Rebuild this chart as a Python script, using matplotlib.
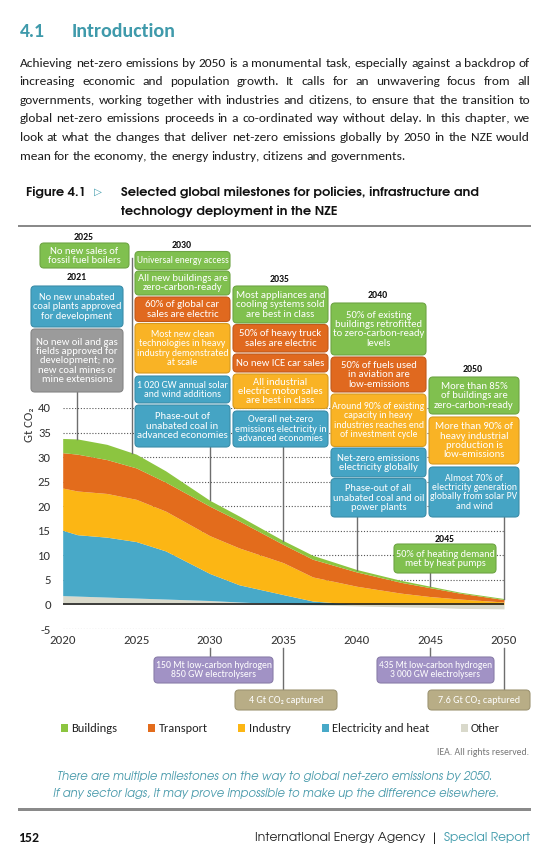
import numpy as np
import matplotlib
matplotlib.use("Agg")
import matplotlib.pyplot as plt
from matplotlib.patches import FancyBboxPatch, Rectangle
from matplotlib import font_manager as fm
import matplotlib.colors as mcolors

# ---------------- data (Gt CO2) ----------------
years = [2020, 2021, 2023, 2025, 2027, 2030, 2032, 2035, 2037, 2040, 2043, 2045, 2047, 2050]
other = [1.8, 1.7, 1.5, 1.3, 1.1, 0.8, 0.5, 0.1, -0.1, -0.3, -0.5, -0.6, -0.8, -0.9]
electricity = [13.3, 12.5, 12.2, 11.5, 9.8, 5.5, 3.5, 1.9, 0.7, 0.0, 0.0, 0.0, 0.0, 0.0]
industry = [8.6, 8.9, 8.9, 8.6, 8.1, 7.7, 7.5, 6.5, 4.9, 3.7, 2.3, 1.6, 1.1, 0.5]
transport = [7.2, 7.5, 6.9, 6.4, 5.9, 6.0, 5.5, 3.7, 3.6, 2.9, 2.2, 1.8, 1.2, 0.5]
buildings = [2.9, 3.1, 3.1, 2.8, 2.3, 1.2, 1.0, 0.8, 0.8, 0.5, 0.4, 0.3, 0.2, 0.2]

sector_names = ["Buildings", "Transport", "Industry", "Electricity and heat", "Other"]
x_ticks = [2020, 2025, 2030, 2035, 2040, 2045, 2050]
y_ticks = [-5, 0, 5, 10, 15, 20, 25, 30, 35, 40]
y_label = "Gt CO\u2082"

heading_num = "4.1"
heading = "Introduction"
body_lines = [
    "Achieving net-zero emissions by 2050 is a monumental task, especially against a backdrop of",
    "increasing economic and population growth. It calls for an unwavering focus from all",
    "governments, working together with industries and citizens, to ensure that the transition to",
    "global net-zero emissions proceeds in a co-ordinated way without delay. In this chapter, we",
    "look at what the changes that deliver net-zero emissions globally by 2050 in the NZE would",
    "mean for the economy, the energy industry, citizens and governments.",
]
fig_label = "Figure 4.1"
fig_title = ["Selected global milestones for policies, infrastructure and",
             "technology deployment in the NZE"]
caption = ["There are multiple milestones on the way to global net-zero emissions by 2050.",
           "If any sector lags, it may prove impossible to make up the difference elsewhere."]
rights = "IEA. All rights reserved."
footer_page = "152"
footer_org = "International Energy Agency"
footer_rep = "Special Report"

# milestones: (year label, [(kind, text), ...])
ms_2021 = ("2021", [("ele", "No new unabated\ncoal plants approved\nfor development"),
                    ("gry", "No new oil and gas\nfields approved for\ndevelopment; no\nnew coal mines or\nmine extensions")])
ms_2025 = ("2025", [("bld", "No new sales of\nfossil fuel boilers")])
ms_2030 = ("2030", [("bld", "Universal energy access"),
                    ("bld", "All new buildings are\nzero-carbon-ready"),
                    ("trn", "60% of global car\nsales are electric"),
                    ("ind", "Most new clean\ntechnologies in heavy\nindustry demonstrated\nat scale"),
                    ("ele", "1 020 GW annual solar\nand wind additions"),
                    ("ele", "Phase-out of\nunabated coal in\nadvanced economies")])
ms_2035 = ("2035", [("bld", "Most appliances and\ncooling systems sold\nare best in class"),
                    ("trn", "50% of heavy truck\nsales are electric"),
                    ("trn", "No new ICE car sales"),
                    ("ind", "All industrial\nelectric motor sales\nare best in class"),
                    ("ele", "Overall net-zero\nemissions electricity in\nadvanced economies")])
ms_2040 = ("2040", [("bld", "50% of existing\nbuildings retrofitted\nto zero-carbon-ready\nlevels"),
                    ("trn", "50% of fuels used\nin aviation are\nlow-emissions"),
                    ("ind", "Around 90% of existing\ncapacity in heavy\nindustries reaches end\nof investment cycle"),
                    ("ele", "Net-zero emissions\nelectricity globally"),
                    ("ele", "Phase-out of all\nunabated coal and oil\npower plants")])
ms_2045 = ("2045", [("bld", "50% of heating demand\nmet by heat pumps")])
ms_2050 = ("2050", [("bld", "More than 85%\nof buildings are\nzero-carbon-ready"),
                    ("ind", "More than 90% of\nheavy industrial\nproduction is\nlow-emissions"),
                    ("ele", "Almost 70% of\nelectricity generation\nglobally from solar PV\nand wind")])
ms_bottom = [("hyd", "150 Mt low-carbon hydrogen\n850 GW electrolysers"),
             ("ccs", "4 Gt CO\u2082 captured"),
             ("hyd", "435 Mt low-carbon hydrogen\n3 000 GW electrolysers"),
             ("ccs", "7.6 Gt CO\u2082 captured")]

# ---------------- styles ----------------
C_AREA = {"bld": "#8cc540", "trn": "#e36c1c", "ind": "#fcb614", "ele": "#48a9c8", "oth": "#d9d9cb"}
C_BOX = {"bld": "#80c04f", "trn": "#e0691f", "ind": "#f9b325", "ele": "#45a4c4",
         "gry": "#9b9b9b", "hyd": "#a192c5", "ccs": "#b8ad86"}
TEAL = "#3f9aab"
TXT = "#1c1c1c"

names = {f.name for f in fm.fontManager.ttflist}
def pick(*c):
    for n in c:
        if n in names:
            return n
    return "DejaVu Sans"
BODY = pick("Carlito", "Liberation Sans Narrow", "Roboto Condensed", "Open Sans Condensed", "Lato", "Liberation Sans")
GOTH = pick("URW Gothic", "TeX Gyre Adventor", "Century Gothic", "Lato", "DejaVu Sans")
BF = [BODY, "DejaVu Sans"]
GF = [GOTH, "DejaVu Sans"]
plt.rcParams["font.family"] = BF

W, H = 553, 865
fig = plt.figure(figsize=(W / 100, H / 100), dpi=100)
fig.patch.set_facecolor("white")
R = fig.canvas.get_renderer()

# chart axes
X0, X1, YT, YB = 62.7, 504.0, 408.0, 629.0
ax = fig.add_axes([X0 / W, 1 - YB / H, (X1 - X0) / W, (YB - YT) / H], zorder=1)
ax.set_xlim(2020, 2050)
ax.set_ylim(-5, 40)
for s in ax.spines.values():
    s.set_visible(False)
ax.set_facecolor("none")

yrs = np.array(years, float)
oth = np.array(other)
pos0 = np.clip(oth, 0, None)
neg0 = np.clip(oth, None, 0)
b1 = pos0
t1 = b1 + np.array(electricity)
t2 = t1 + np.array(industry)
t3 = t2 + np.array(transport)
t4 = t3 + np.array(buildings)
ax.fill_between(yrs, 0, pos0, color=C_AREA["oth"], lw=0, zorder=3)
ax.fill_between(yrs, neg0, 0, color=C_AREA["oth"], lw=0, zorder=3)
ax.fill_between(yrs, b1, t1, color=C_AREA["ele"], lw=0, zorder=3)
ax.fill_between(yrs, t1, t2, color=C_AREA["ind"], lw=0, zorder=3)
ax.fill_between(yrs, t2, t3, color=C_AREA["trn"], lw=0, zorder=3)
ax.fill_between(yrs, t3, t4, color=C_AREA["bld"], lw=0, zorder=3)

for v in y_ticks:
    if v != 0:
        ax.axhline(v, color="#555555", lw=0.8, ls=(0, (1, 1.6)), zorder=1)
ax.axhline(0, color="#222222", lw=1.2, zorder=4)

ax.set_xticks(x_ticks)
ax.set_xticklabels([str(x) for x in x_ticks])
ax.set_yticks(y_ticks)
ax.set_yticklabels([str(y) for y in y_ticks])
ax.tick_params(axis="both", length=0, labelsize=9.2, colors="#333333")
ax.tick_params(axis="y", pad=8.5)
ax.tick_params(axis="x", pad=4.5)

# overlay in pixel coordinates (y downward)
ov = fig.add_axes([0, 0, 1, 1], zorder=5)
ov.set_xlim(0, W)
ov.set_ylim(H, 0)
ov.axis("off")


def to_px(year, val):
    dx, dy = ax.transData.transform((year, val))
    return dx, H - dy


def fit(t, w=None, h=None, cap=None):
    for _ in range(2):
        bb = t.get_window_extent(R)
        f = 1e9
        if w:
            f = min(f, w / bb.width)
        if h:
            f = min(f, h / bb.height)
        ns = t.get_fontsize() * f
        if cap:
            ns = min(ns, cap)
        t.set_fontsize(ns)
    return t


def text(x, y, s, w=None, size=10, ha="left", va="center", **kw):
    t = ov.text(x, y, s, fontsize=size, ha=ha, va=va, **kw)
    if w:
        fit(t, w=w)
    return t


def darker(c, f=0.86):
    r, g, b = mcolors.to_rgb(c)
    return (r * f, g * f, b * f)


def box(x0, x1, y0, y1, kind, s, cap=7.7):
    col = C_BOX[kind]
    p = FancyBboxPatch((x0, y0), x1 - x0, y1 - y0,
                       boxstyle="round,pad=0,rounding_size=4",
                       fc=col, ec=darker(col), lw=0.8, zorder=6)
    ov.add_patch(p)
    t = ov.text((x0 + x1) / 2, (y0 + y1) / 2 + 0.3, s, ha="center", va="center",
                ma="center", color="white", fontsize=cap, linespacing=1.05,
                family=BF, zorder=7)
    fit(t, w=x1 - x0 - 3.5, h=y1 - y0 - 1.0, cap=cap)


def vline(year, ytop, ybot=None, **kw):
    px, py = to_px(year, float(np.interp(year, yrs, t4)) if ybot is None else 0)
    if ybot is not None:
        py = ybot
    ov.plot([px, px], [ytop, py], color="#6e6e6e", lw=1.0, zorder=4, **kw)


# ---------------- header ----------------
text(19.6, 31.5, heading_num, w=25, color=TEAL, fontweight="bold")
text(71.3, 31.5, heading, w=104, color=TEAL, fontweight="bold")

# justified body (baseline aligned)
body_y = [62.3, 81.0, 99.5, 118.0, 136.7, 155.2]
BX0, BX1 = 19.6, 530.0
size = 10.5
nat = []
for ln in body_lines:
    t = ov.text(0, 0, ln, fontsize=size)
    nat.append(t.get_window_extent(R).width)
    t.remove()
mx = max(nat)
if mx > (BX1 - BX0) * 0.985:
    size = size * (BX1 - BX0) * 0.985 / mx
else:
    size = size * min(1.12, (BX1 - BX0) * 0.95 / mx)
for i, (ln, y) in enumerate(zip(body_lines, body_y)):
    words = ln.split()
    ts = [ov.text(0, y + 4.3, wd, fontsize=size, va="baseline", color=TXT) for wd in words]
    ws = [t.get_window_extent(R).width for t in ts]
    if i < len(body_lines) - 1:
        gap = (BX1 - BX0 - sum(ws)) / (len(words) - 1)
    else:
        sp = ov.text(0, 0, "a a", fontsize=size)
        sa = ov.text(0, 0, "aa", fontsize=size)
        gap = sp.get_window_extent(R).width - sa.get_window_extent(R).width
        sp.remove(); sa.remove()
    x = BX0
    for t, wd in zip(ts, ws):
        t.set_x(x)
        x += wd + gap

# figure title
text(26, 191.7, fig_label, w=60, color="#111111", fontweight="bold", family=GF)
text(93.5, 191.7, "\u25B7", w=8, color=TEAL, family=["DejaVu Sans"])
tt = text(121, 196.0, fig_title[0], w=358, va="baseline", color="#111111", fontweight="bold", family=GF)
ov.text(121, 214.3, fig_title[1], fontsize=tt.get_fontsize(), ha="left",
        va="baseline", color="#111111", fontweight="bold", family=GF)
ov.add_patch(Rectangle((17.8, 224.8), 513, 2.6, color="#8a8a8a", lw=0, zorder=2))

# y label
ov.text(30, 425, y_label, rotation=90, ha="center", va="center", fontsize=9.2,
        color="#333333", family=BF)

# ---------------- milestone columns ----------------
columns = [
    (ms_2021, (77, 278), (31, 123), [(286, 327), (329, 392)], 2021.0, None),
    (ms_2025, (84, 238), (40, 129), [(243, 268)], 2024.7, 258),
    (ms_2030, (182, 245), (135, 230), [(251.5, 269.5), (271, 295), (297, 321.5),
                                       (323.5, 373), (376, 403), (405, 447)], 2030.0, None),
    (ms_2035, (280, 279), (233, 328), [(286, 323), (324.5, 352), (354, 372),
                                       (374, 408.5), (411, 447)], 2035.0, None),
    (ms_2040, (378, 296), (331, 426), [(303, 355), (357, 392), (394, 446.5),
                                       (448, 477), (478.5, 517)], 2040.0, None),
    (ms_2045, (445, 539), (394, 496), [(544, 573)], 2045.0, None),
    (ms_2050, (473, 370), (429, 519), [(377, 414), (417, 464), (467, 517)], 2050.0, None),
]
for (lab, items), (lx, ly), (bx0, bx1), ys, lyear, lstart in columns:
    text(lx, ly, lab, w=20, ha="center", color="#111111", fontweight="bold")
    for (kind, s), (y0, y1) in zip(items, ys):
        box(bx0, bx1, y0, y1, kind, s)
    vline(lyear, lstart if lstart is not None else ys[-1][1] - 2)

# bottom boxes
bottom_layout = [((154, 273, 657, 683), 2030.0), ((235, 337, 690, 710), 2035.0),
                 ((377, 494, 657, 683), 2045.0), ((428, 530, 690, 710), 2050.0)]
for (kind, s), ((x0, x1, y0, y1), yr) in zip(ms_bottom, bottom_layout):
    box(x0, x1, y0, y1, kind, s, cap=7.3)
    px, _ = to_px(yr, 0)
    ov.plot([px, px], [648, y0 + 2], color="#6e6e6e", lw=1.0, zorder=4)

# ---------------- legend ----------------
leg_kinds = ["bld", "trn", "ind", "ele", "oth"]
leg_sq = [61, 148, 238, 322, 461]
leg_tx = [(71, 46), (158.6, 49), (248.8, 41.6), (332, 98), (471, 29)]
for k, sx, (tx, tw), nm in zip(leg_kinds, leg_sq, leg_tx, sector_names):
    ov.add_patch(Rectangle((sx, 724.3), 7.4, 7.4, color=C_AREA[k], lw=0))
    text(tx, 728, nm, w=tw, color="#222222")

text(529, 752.7, rights, w=93.5, ha="right", color="#777777")

for ln, y, (x0, x1) in zip(caption, [776.7, 793.3], [(57, 492), (53, 499)]):
    text((x0 + x1) / 2, y, ln, w=x1 - x0, ha="center", color="#4a9bac",
         style="italic", family=GF)
ov.add_patch(Rectangle((17.8, 808), 513, 2.6, color="#8a8a8a", lw=0))

text(17.8, 837.7, footer_page, w=21, color="#111111", fontweight="bold")
text(255, 837.7, footer_org, w=169, color="#222222", family=GF)
text(434, 837.7, "|", size=9.5, ha="center", color="#222222", family=GF)
text(443.7, 837.7, footer_rep, w=86, color=TEAL, family=GF)

fig.savefig("out.png", dpi=100, facecolor="white")
